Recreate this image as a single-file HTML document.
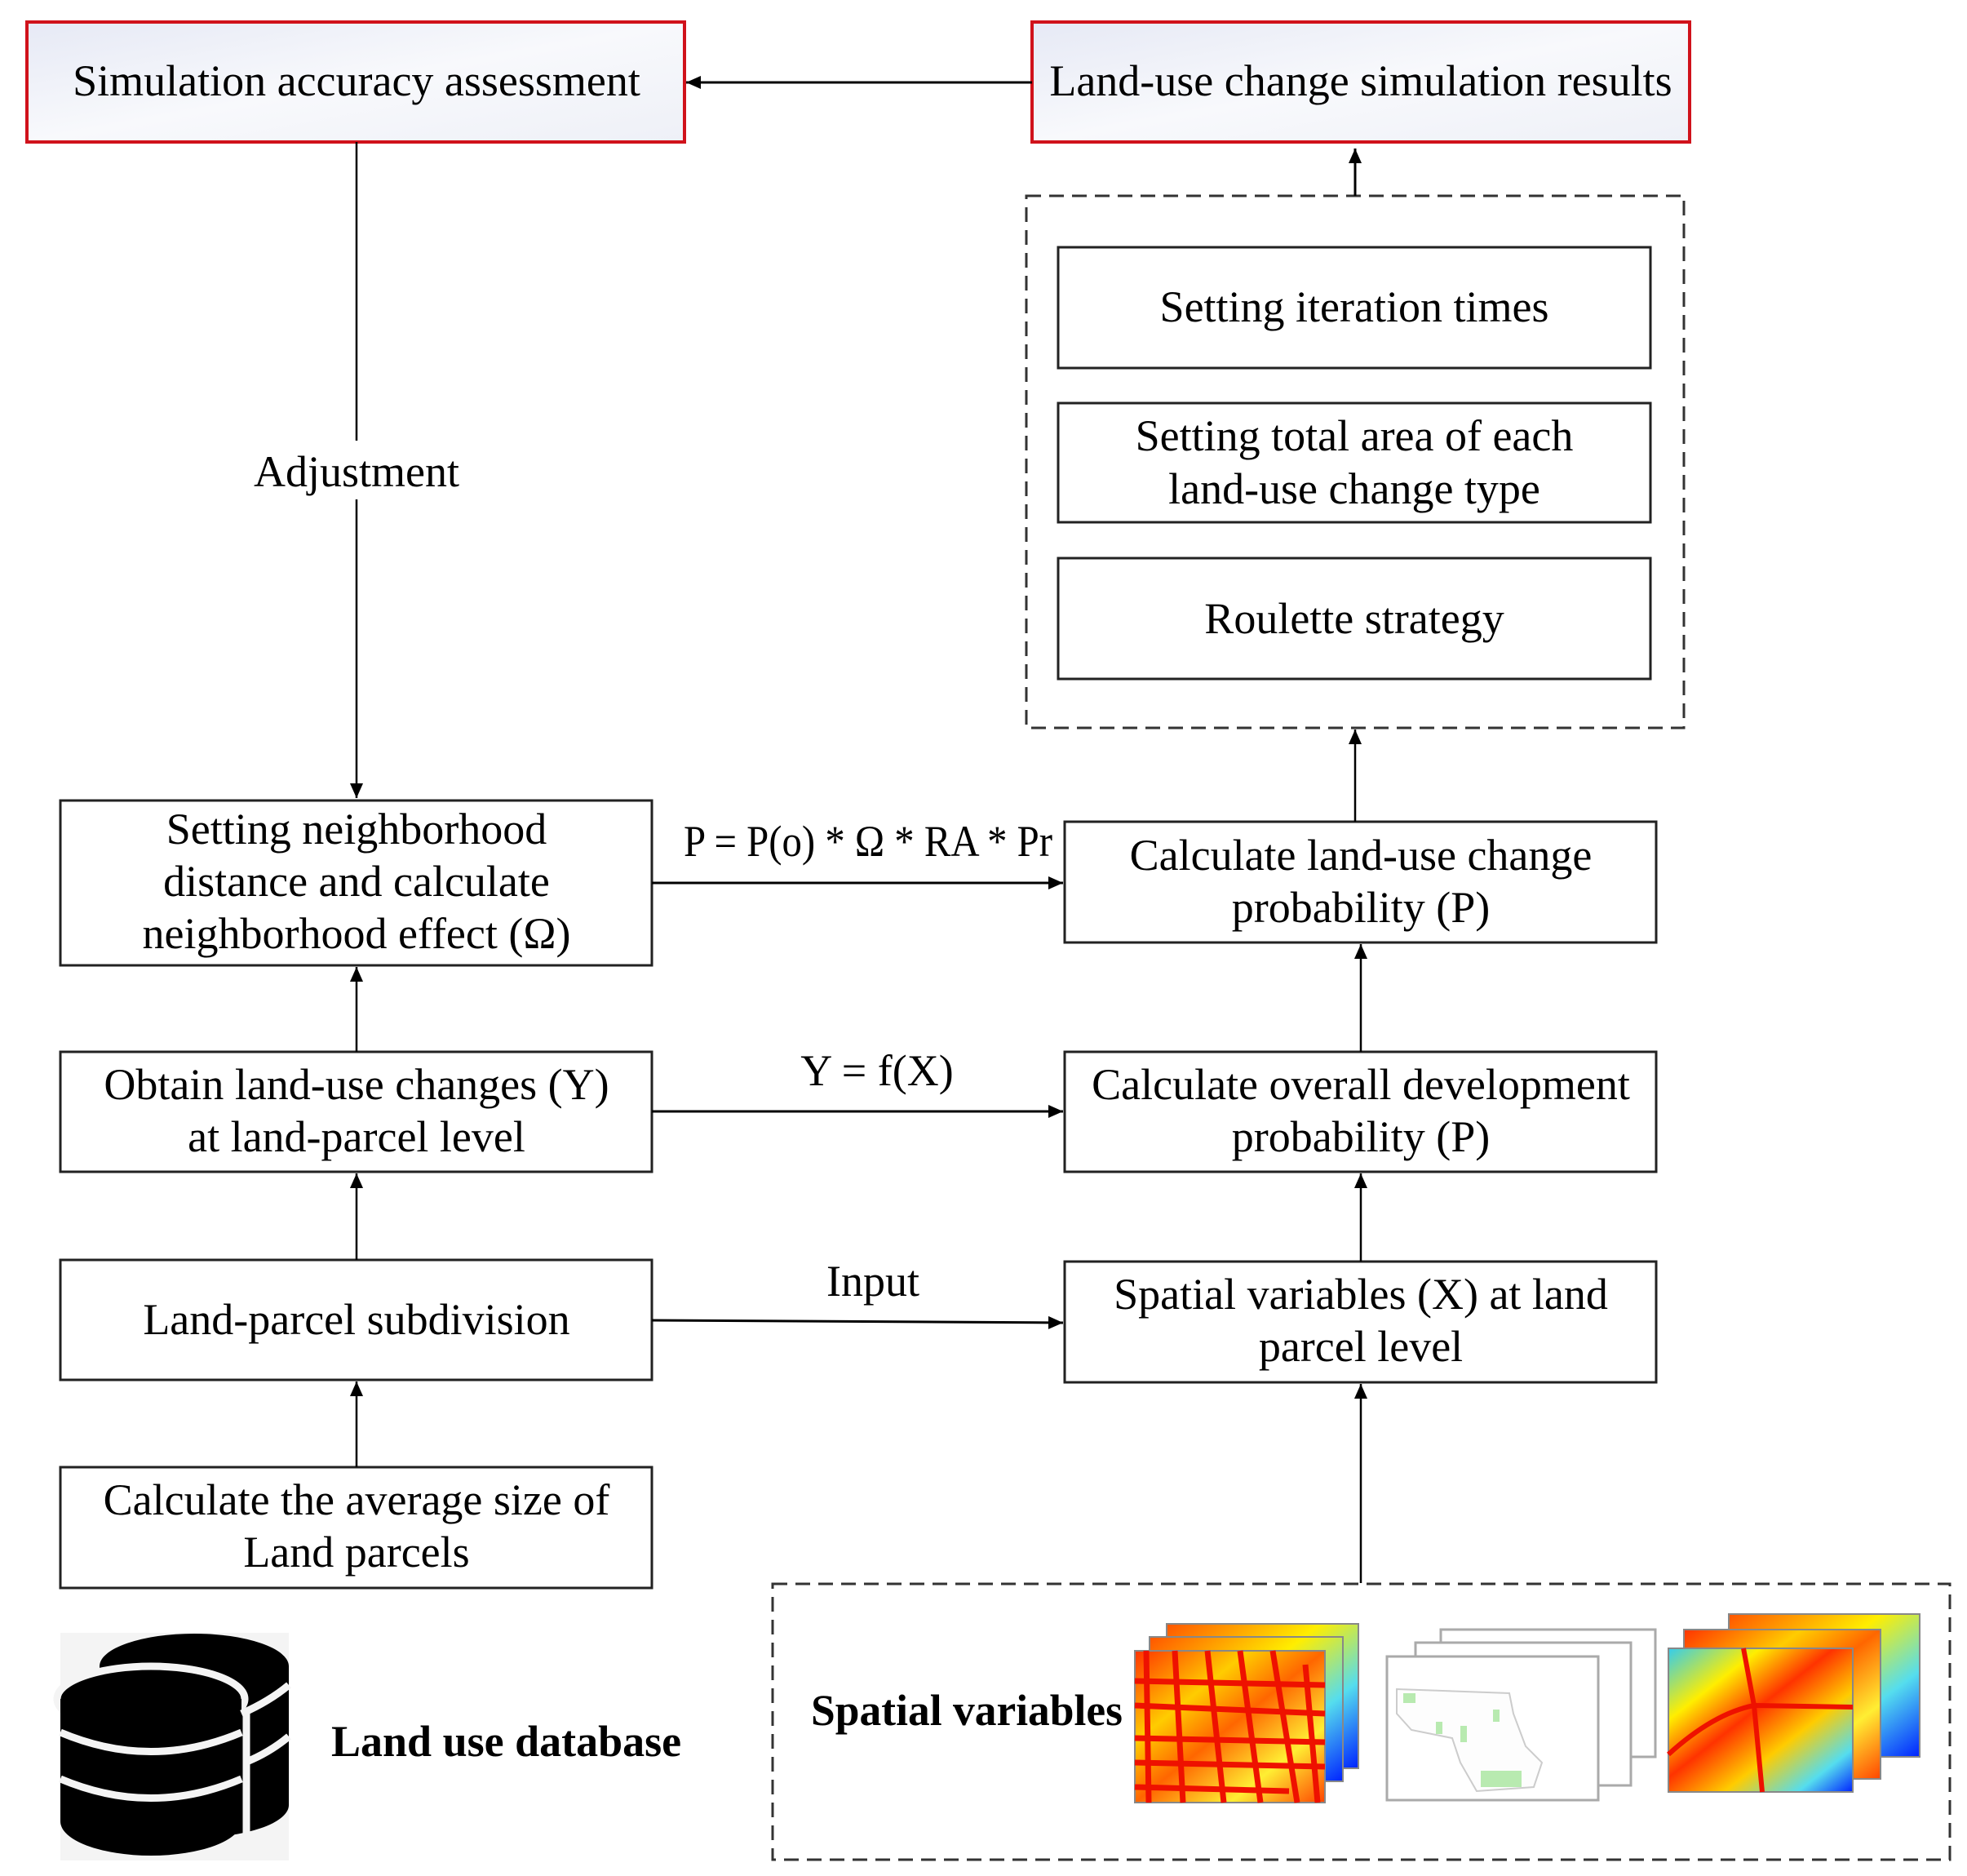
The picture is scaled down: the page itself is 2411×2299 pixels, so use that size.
<!DOCTYPE html>
<html><head><meta charset="utf-8"><style>
html,body{margin:0;padding:0;background:#fff;}
svg{display:block;}
text{font-family:"Liberation Serif",serif;font-size:54px;fill:#000;}
</style></head><body>
<svg width="2411" height="2299" viewBox="0 0 2411 2299" xmlns="http://www.w3.org/2000/svg">
<defs>
<linearGradient id="rg" x1="0" y1="0" x2="1" y2="1">
<stop offset="0" stop-color="#e6e9f5"/><stop offset="0.5" stop-color="#f8f9fc"/><stop offset="1" stop-color="#eef0f7"/></linearGradient>
<marker id="ab" markerWidth="20" markerHeight="20" refX="18" refY="8" orient="auto" markerUnits="userSpaceOnUse">
<path d="M0,0 L18,8 L0,16 z" fill="#000"/></marker>
<linearGradient id="heat1" x1="0" y1="0" x2="1" y2="1">
<stop offset="0" stop-color="#ff3300"/><stop offset="0.3" stop-color="#ffcc00"/><stop offset="0.5" stop-color="#ff6600"/><stop offset="0.75" stop-color="#ffee33"/><stop offset="1" stop-color="#ff4400"/></linearGradient>
<linearGradient id="heatb" x1="0" y1="0" x2="1" y2="1">
<stop offset="0" stop-color="#ff5500"/><stop offset="0.4" stop-color="#ffee00"/><stop offset="0.7" stop-color="#55ddee"/><stop offset="1" stop-color="#0022ff"/></linearGradient>
<linearGradient id="heat3" x1="0" y1="0" x2="1" y2="1">
<stop offset="0" stop-color="#33ccee"/><stop offset="0.25" stop-color="#ffee00"/><stop offset="0.45" stop-color="#ff3300"/><stop offset="0.65" stop-color="#ffcc00"/><stop offset="0.85" stop-color="#55ddee"/><stop offset="1" stop-color="#0022ff"/></linearGradient>
</defs>

<rect x="33" y="27" width="806" height="147" fill="url(#rg)" stroke="#d0121b" stroke-width="4"/>
<text x="437" y="117" text-anchor="middle">Simulation accuracy assessment</text>
<rect x="1265" y="27" width="806" height="147" fill="url(#rg)" stroke="#d0121b" stroke-width="4"/>
<text x="1668" y="117" text-anchor="middle">Land-use change simulation results</text>
<line x1="1265" y1="101" x2="841" y2="101" stroke="#000" stroke-width="3" marker-end="url(#ab)"/>

<rect x="1258" y="240" width="806" height="652" fill="none" stroke="#333" stroke-width="3" stroke-dasharray="18,10"/>
<line x1="1661" y1="240" x2="1661" y2="182" stroke="#000" stroke-width="3" marker-end="url(#ab)"/>
<rect x="1297" y="303" width="726" height="148" fill="#fff" stroke="#222" stroke-width="3"/>
<text x="1660" y="394" text-anchor="middle">Setting iteration times</text>
<rect x="1297" y="494" width="726" height="146" fill="#fff" stroke="#222" stroke-width="3"/>
<text x="1660" y="552" text-anchor="middle">Setting total area of each</text>
<text x="1660" y="617" text-anchor="middle">land-use change type</text>
<rect x="1297" y="684" width="726" height="148" fill="#fff" stroke="#222" stroke-width="3"/>
<text x="1660" y="776" text-anchor="middle">Roulette strategy</text>

<line x1="437" y1="174" x2="437" y2="540" stroke="#000" stroke-width="2.5"/>
<line x1="437" y1="612" x2="437" y2="978" stroke="#000" stroke-width="2.5" marker-end="url(#ab)"/>
<text x="437" y="596" text-anchor="middle">Adjustment</text>

<rect x="74" y="981" width="725" height="202" fill="#fff" stroke="#222" stroke-width="3"/>
<text x="437" y="1034" text-anchor="middle">Setting neighborhood</text>
<text x="437" y="1098" text-anchor="middle">distance and calculate</text>
<text x="437" y="1162" text-anchor="middle">neighborhood effect (Ω)</text>

<rect x="74" y="1289" width="725" height="147" fill="#fff" stroke="#222" stroke-width="3"/>
<text x="437" y="1347" text-anchor="middle">Obtain land-use changes (Y)</text>
<text x="437" y="1411" text-anchor="middle">at land-parcel level</text>

<rect x="74" y="1544" width="725" height="147" fill="#fff" stroke="#222" stroke-width="3"/>
<text x="437" y="1635" text-anchor="middle">Land-parcel subdivision</text>

<rect x="74" y="1798" width="725" height="148" fill="#fff" stroke="#222" stroke-width="3"/>
<text x="437" y="1856" text-anchor="middle">Calculate the average size of</text>
<text x="437" y="1920" text-anchor="middle">Land parcels</text>

<line x1="437" y1="1289" x2="437" y2="1185" stroke="#000" stroke-width="2.5" marker-end="url(#ab)"/>
<line x1="437" y1="1544" x2="437" y2="1438" stroke="#000" stroke-width="2.5" marker-end="url(#ab)"/>
<line x1="437" y1="1798" x2="437" y2="1693" stroke="#000" stroke-width="2.5" marker-end="url(#ab)"/>

<rect x="1305" y="1007" width="725" height="148" fill="#fff" stroke="#222" stroke-width="3"/>
<text x="1668" y="1066" text-anchor="middle">Calculate land-use change</text>
<text x="1668" y="1130" text-anchor="middle">probability (P)</text>

<rect x="1305" y="1289" width="725" height="147" fill="#fff" stroke="#222" stroke-width="3"/>
<text x="1668" y="1347" text-anchor="middle">Calculate overall development</text>
<text x="1668" y="1411" text-anchor="middle">probability (P)</text>

<rect x="1305" y="1546" width="725" height="148" fill="#fff" stroke="#222" stroke-width="3"/>
<text x="1668" y="1604" text-anchor="middle">Spatial variables (X) at land</text>
<text x="1668" y="1668" text-anchor="middle">parcel level</text>

<line x1="1661" y1="1007" x2="1661" y2="894" stroke="#000" stroke-width="2.5" marker-end="url(#ab)"/>
<line x1="1668" y1="1289" x2="1668" y2="1157" stroke="#000" stroke-width="2.5" marker-end="url(#ab)"/>
<line x1="1668" y1="1546" x2="1668" y2="1438" stroke="#000" stroke-width="2.5" marker-end="url(#ab)"/>
<line x1="1668" y1="1940" x2="1668" y2="1696" stroke="#000" stroke-width="2.5" marker-end="url(#ab)"/>

<line x1="799" y1="1082" x2="1303" y2="1082" stroke="#000" stroke-width="3" marker-end="url(#ab)"/>
<text x="838" y="1049" font-size="46" textLength="452" lengthAdjust="spacingAndGlyphs">P = P(o) * Ω * RA * Pr</text>
<line x1="799" y1="1362" x2="1303" y2="1362" stroke="#000" stroke-width="3" marker-end="url(#ab)"/>
<text x="1075" y="1330" text-anchor="middle" font-size="47">Y = f(X)</text>
<line x1="799" y1="1618" x2="1303" y2="1621" stroke="#000" stroke-width="3" marker-end="url(#ab)"/>
<text x="1070" y="1588" text-anchor="middle" font-size="47">Input</text>

<rect x="74" y="2001" width="280" height="279" fill="#f4f4f4"/>
<g fill="#000">
<ellipse cx="238" cy="2042" rx="116" ry="40"/>
<rect x="122" y="2042" width="232" height="170"/>
<ellipse cx="238" cy="2212" rx="116" ry="40"/>
</g>
<g stroke="#f4f4f4" stroke-width="9" fill="#000">
<ellipse cx="185" cy="2082" rx="115" ry="40"/>
</g>
<g fill="#000">
<rect x="74" y="2082" width="222" height="150"/>
<ellipse cx="185" cy="2232" rx="111" ry="42"/>
</g>
<g fill="none" stroke="#f4f4f4" stroke-width="9">
<path d="M74,2123 Q185,2170 296,2123"/>
<path d="M74,2180 Q185,2227 296,2180"/>
<path d="M302,2100 L302,2250"/>
<path d="M296,2100 Q330,2085 354,2065"/>
<path d="M300,2160 Q330,2148 354,2128"/>
</g>
<text x="406" y="2152" font-weight="bold" font-size="50">Land use database</text>

<rect x="947" y="1941" width="1443" height="338" fill="none" stroke="#333" stroke-width="3" stroke-dasharray="18,10"/>
<text x="994" y="2114" font-weight="bold" font-size="49" textLength="382" lengthAdjust="spacingAndGlyphs">Spatial variables</text>

<rect x="1430" y="1990" width="235" height="177" fill="url(#heatb)" stroke="#888" stroke-width="2"/>
<rect x="1409" y="2006" width="237" height="177" fill="url(#heatb)" stroke="#888" stroke-width="2"/>
<rect x="1391" y="2023" width="233" height="186" fill="url(#heat1)" stroke="#888" stroke-width="2"/>
<g stroke="#ee1100" stroke-width="7" fill="none">
<path d="M1391,2060 L1624,2065"/><path d="M1391,2090 L1624,2100"/><path d="M1391,2130 L1624,2135"/><path d="M1391,2160 L1624,2165"/><path d="M1391,2190 L1580,2195"/>
<path d="M1405,2023 L1408,2209"/><path d="M1440,2023 L1450,2209"/><path d="M1480,2023 L1500,2209"/><path d="M1520,2023 L1545,2209"/><path d="M1560,2023 L1590,2209"/><path d="M1600,2040 L1615,2209"/>
</g>
<rect x="1766" y="1997" width="263" height="156" fill="#fff" stroke="#aaa" stroke-width="3"/>
<rect x="1735" y="2013" width="264" height="175" fill="#fff" stroke="#aaa" stroke-width="3"/>
<rect x="1700" y="2030" width="259" height="176" fill="#fff" stroke="#aaa" stroke-width="3"/>
<path d="M1712,2070 L1850,2075 L1855,2100 L1870,2140 L1890,2160 L1880,2190 L1810,2195 L1790,2160 L1780,2130 L1730,2120 L1712,2100 z" fill="#fdfdfd" stroke="#ccc" stroke-width="2"/>
<g fill="#b8eab0"><rect x="1815" y="2170" width="50" height="20"/><rect x="1720" y="2075" width="15" height="12"/><rect x="1790" y="2115" width="8" height="20"/><rect x="1830" y="2095" width="8" height="15"/><rect x="1760" y="2110" width="8" height="15"/></g>
<rect x="2119" y="1978" width="234" height="175" fill="url(#heatb)" stroke="#888" stroke-width="2"/>
<rect x="2064" y="1997" width="241" height="183" fill="url(#heat1)" stroke="#888" stroke-width="2"/>
<rect x="2045" y="2020" width="226" height="176" fill="url(#heat3)" stroke="#888" stroke-width="2"/>
<g stroke="#ee1100" stroke-width="6" fill="none">
<path d="M2045,2150 Q2100,2100 2150,2090 L2271,2092"/><path d="M2137,2020 L2150,2090 L2160,2196"/>
</g>
</svg>
</body></html>
